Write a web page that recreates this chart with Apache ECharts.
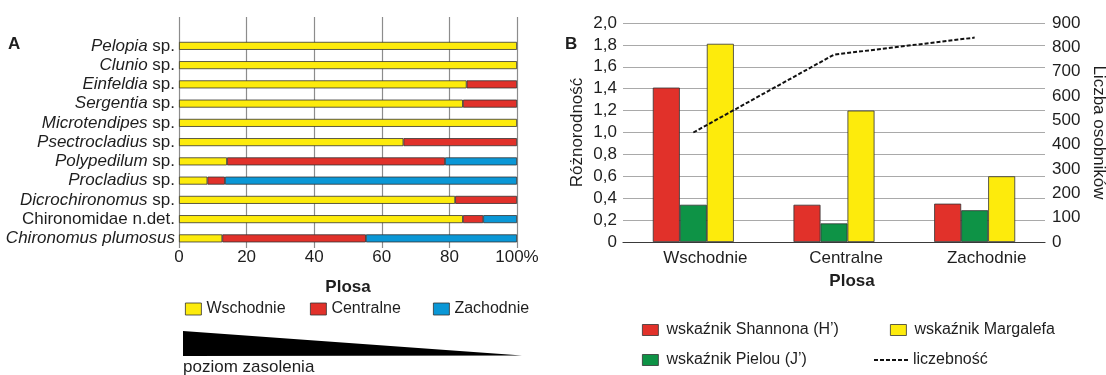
<!DOCTYPE html>
<html>
<head>
<meta charset="utf-8">
<title>Chironomidae – plosy</title>
<script src="https://cdn.jsdelivr.net/npm/echarts@6.0.0/dist/echarts.min.js"></script>
<style>
  html, body { margin: 0; padding: 0; background: #ffffff; }
  #chart { width: 1106px; height: 375px; }
</style>
</head>
<body>
<div id="chart"></div>
<script>
const FONT = '"Liberation Sans", Arial, Helvetica, sans-serif';
const INK = '#1e1e1e';

// ---- Panel A: share of each taxon in the three basins (%) ----
const taxa = [
  'Pelopia sp.', 'Clunio sp.', 'Einfeldia sp.', 'Sergentia sp.',
  'Microtendipes sp.', 'Psectrocladius sp.', 'Polypedilum sp.',
  'Procladius sp.', 'Dicrochironomus sp.', 'Chironomidae n.det.',
  'Chironomus plumosus'
];
const uprightTaxa = ['Chironomidae n.det.'];
const shareWschodnie = [100, 100, 85.1, 84.0, 100, 66.4, 14.2, 8.4, 81.7, 84.0, 12.8];
const shareCentralne = [0, 0, 14.9, 16.0, 0, 33.6, 64.5, 5.2, 18.3, 6.0, 42.5];
const shareZachodnie = [0, 0, 0, 0, 0, 0, 21.3, 86.4, 0, 10.0, 44.7];
const shareTicks = [0, 20, 40, 60, 80, 100];

// ---- Panel B: diversity indices and abundance per basin ----
const plosy = ['Wschodnie', 'Centralne', 'Zachodnie'];
const shannon = [1.41, 0.34, 0.35];
const pielou = [0.34, 0.17, 0.29];
const margalef = [1.81, 1.20, 0.60];
const liczebnosc = [450, 770, 840];

const COLORS = {
  yellow: '#fdeb0c',
  red: '#e1312a',
  blue: '#0a97d6',
  green: '#0e9346'
};

// leave an empty slot above the first taxon so the grid lines run higher
const taxaAxis = [''].concat(taxa);
const slot = arr => [null].concat(arr.map(v => (v > 0 ? v : null)));

function taxonLabel(name) {
  if (!name) return '';
  if (uprightTaxa.indexOf(name) >= 0) return name;
  if (name.endsWith(' sp.')) return '{i|' + name.slice(0, -4) + '} sp.';
  return '{i|' + name + '}';
}

const txt = { fontFamily: FONT, fontSize: 17, color: INK };
const legendTxt = { fontFamily: FONT, fontSize: 16, color: INK };
const barBorder = { borderColor: '#333333', borderWidth: 0.8 };

const chart = echarts.init(document.getElementById('chart'), null, { renderer: 'canvas' });

const boxLegend = l => Object.assign({
  orient: 'horizontal', padding: 0, icon: 'rect', itemWidth: 16, itemHeight: 12,
  selectedMode: false, textStyle: legendTxt,
  itemStyle: { borderColor: '#333333', borderWidth: 0.8 }
}, l);
const legendTxtB = Object.assign({ padding: [0, 0, 0, 3] }, legendTxt);

const option = {
  animation: false,
  backgroundColor: '#ffffff',
  textStyle: { fontFamily: FONT },
  grid: [
    { left: 179, right: 589, top: 17, bottom: 127, outerBoundsMode: 'none', containLabel: false },
    { left: 623, right: 61, top: 23, bottom: 133, outerBoundsMode: 'none', containLabel: false }
  ],
  xAxis: [
    {
      gridIndex: 0, type: 'value',
      min: shareTicks[0], max: shareTicks[shareTicks.length - 1], interval: 20,
      axisLine: { show: false }, axisTick: { show: false },
      splitLine: { show: true, lineStyle: { color: '#8c8c8c', width: 1.2 } },
      axisLabel: Object.assign({ margin: 1, formatter: v => (v === 100 ? '100%' : String(v)) }, txt),
      name: 'Plosa', nameLocation: 'middle', nameGap: 31,
      nameTextStyle: Object.assign({ fontWeight: 'bold' }, txt)
    },
    {
      gridIndex: 1, type: 'category', data: plosy,
      axisLine: { show: true, lineStyle: { color: '#3a3a3a', width: 1.2 } },
      axisTick: { show: false },
      axisLabel: Object.assign({ margin: 8, interval: 0, padding: [0, 0, 0, 24] }, txt),
      name: 'Plosa', nameLocation: 'middle', nameGap: 31,
      nameTextStyle: Object.assign({ fontWeight: 'bold', padding: [0, 0, 0, 36] }, txt)
    }
  ],
  yAxis: [
    {
      gridIndex: 0, type: 'category', inverse: true, data: taxaAxis,
      axisLine: { show: false }, axisTick: { show: false }, splitLine: { show: false },
      axisLabel: Object.assign({
        margin: 4, interval: 0, formatter: taxonLabel,
        rich: { i: Object.assign({ fontStyle: 'italic' }, txt) }
      }, txt)
    },
    {
      gridIndex: 1, type: 'value', min: 0, max: 2, interval: 0.2,
      axisLine: { show: false }, axisTick: { show: false },
      splitLine: { show: true, lineStyle: { color: '#a9a9a9', width: 1.2 } },
      axisLabel: Object.assign({
        margin: 6,
        formatter: v => (v === 0 ? '0' : v.toFixed(1).replace('.', ','))
      }, txt),
      name: 'Różnorodność', nameLocation: 'middle', nameGap: 37, nameRotate: 90,
      nameTextStyle: txt
    },
    {
      gridIndex: 1, type: 'value', position: 'right', min: 0, max: 900, interval: 100,
      axisLine: { show: false }, axisTick: { show: false }, splitLine: { show: false },
      axisLabel: Object.assign({ margin: 7 }, txt),
      name: 'Liczba osobników', nameLocation: 'middle', nameGap: 45, nameRotate: -90,
      nameTextStyle: txt
    }
  ],
  legend: [
    boxLegend({ data: ['Wschodnie'], left: 185, top: 301 }),
    boxLegend({ data: ['Centralne'], left: 310, top: 301 }),
    boxLegend({ data: ['Zachodnie'], left: 433, top: 301 }),
    boxLegend({ data: ['wskaźnik Shannona (H’)'], left: 642, top: 322, itemHeight: 11, textStyle: legendTxtB }),
    boxLegend({ data: ['wskaźnik Margalefa'], left: 890, top: 322, itemHeight: 11, textStyle: legendTxtB }),
    boxLegend({ data: ['wskaźnik Pielou (J’)'], left: 642, top: 352, itemHeight: 11, textStyle: legendTxtB }),
    {
      // dashed-line key only, no marker
      data: ['liczebność'], left: 873, top: 352, padding: 0, itemWidth: 34, itemHeight: 12,
      selectedMode: false, textStyle: legendTxt,
      itemStyle: { opacity: 0, color: 'transparent', borderWidth: 0 },
      lineStyle: { color: '#111111', width: 2, type: [4, 2], opacity: 1 }
    }
  ],
  series: [
    {
      name: 'Wschodnie', type: 'bar', xAxisIndex: 0, yAxisIndex: 0, stack: 'udzial',
      barWidth: 8, data: slot(shareWschodnie), silent: true,
      itemStyle: Object.assign({ color: COLORS.yellow }, barBorder)
    },
    {
      name: 'Centralne', type: 'bar', xAxisIndex: 0, yAxisIndex: 0, stack: 'udzial',
      barWidth: 8, data: slot(shareCentralne), silent: true,
      itemStyle: Object.assign({ color: COLORS.red }, barBorder)
    },
    {
      name: 'Zachodnie', type: 'bar', xAxisIndex: 0, yAxisIndex: 0, stack: 'udzial',
      barWidth: 8, data: slot(shareZachodnie), silent: true,
      itemStyle: Object.assign({ color: COLORS.blue }, barBorder)
    },
    {
      name: 'wskaźnik Shannona (H’)', type: 'bar', xAxisIndex: 1, yAxisIndex: 1,
      barWidth: 27, barGap: '0%', data: shannon, silent: true,
      itemStyle: Object.assign({ color: COLORS.red }, barBorder)
    },
    {
      name: 'wskaźnik Pielou (J’)', type: 'bar', xAxisIndex: 1, yAxisIndex: 1,
      barWidth: 27, barGap: '0%', data: pielou, silent: true,
      itemStyle: Object.assign({ color: COLORS.green }, barBorder)
    },
    {
      name: 'wskaźnik Margalefa', type: 'bar', xAxisIndex: 1, yAxisIndex: 1,
      barWidth: 27, barGap: '0%', data: margalef, silent: true,
      itemStyle: Object.assign({ color: COLORS.yellow }, barBorder)
    },
    {
      name: 'liczebność', type: 'line', xAxisIndex: 1, yAxisIndex: 2,
      data: liczebnosc, symbol: 'none', silent: true, z: 5,
      lineStyle: { color: '#111111', width: 2, type: [4, 2] },
      itemStyle: { color: '#111111' }
    }
  ],
  graphic: [
    { type: 'text', left: 8, top: 36, style: { text: 'A', font: 'bold 17px ' + FONT, fill: INK } },
    { type: 'text', left: 565, top: 36, style: { text: 'B', font: 'bold 17px ' + FONT, fill: INK } },
    {
      type: 'polygon', silent: true,
      shape: { points: [[183, 331], [183, 356], [522, 355.5]] },
      style: { fill: '#000000' }
    },
    { type: 'text', left: 183, top: 359, style: { text: 'poziom zasolenia', font: '17px ' + FONT, fill: INK } }
  ]
};

chart.setOption(option);
</script>
</body>
</html>
